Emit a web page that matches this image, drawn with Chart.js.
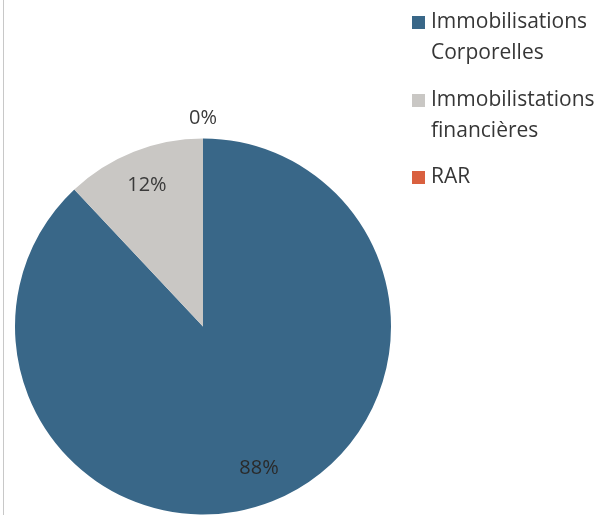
<!DOCTYPE html>
<html>
<head>
<meta charset="utf-8">
<script src="https://cdn.jsdelivr.net/npm/chart.js@4.4.0/dist/chart.umd.min.js"></script>
<style>
  html, body { margin: 0; padding: 0; background: #fff; }
  #wrap { position: relative; width: 606px; height: 515px; }
  #wrap::before { content: ''; position: absolute; left: 3px; top: 0; bottom: 0; border-left: 1px solid #c8c8c8; }
</style>
</head>
<body>
<div id="wrap"><canvas id="myChart" width="606" height="515"></canvas></div>
<script>
// data
var categories = ['Immobilisations Corporelles', 'Immobilistations financières', 'RAR']
var legendLines = [['Immobilisations', 'Corporelles'], ['Immobilistations', 'financières'], ['RAR']]
var values = [88, 12, 0]
var colors = ['#396788', '#c9c7c4', '#d9603f']

var FONT = '"Open Sans", Lato, sans-serif'

// percent labels on the slices
var pctLabels = {
    id: 'pctLabels',
    afterDatasetsDraw: function(chart) {
        var ctx = chart.ctx
        var meta = chart.getDatasetMeta(0)
        var total = values.reduce(function(a, b) { return a + b }, 0)
        ctx.save()
        ctx.font = '20px ' + FONT
        ctx.textAlign = 'center'
        ctx.textBaseline = 'middle'
        meta.data.forEach(function(arc, i) {
            var p = arc.getProps(['x', 'y', 'startAngle', 'endAngle', 'outerRadius'], true)
            var mid = (p.startAngle + p.endAngle) / 2
            var r = values[i] === 0 ? p.outerRadius + 20 : p.outerRadius * 0.81
            var pct = Math.round(values[i] / total * 100) + '%'
            ctx.fillStyle = i === 0 ? '#2a2a2a' : '#3a3a3a'
            ctx.fillText(pct, p.x + Math.cos(mid) * r, p.y + Math.sin(mid) * r)
        })
        ctx.restore()
    }
}

// legend on the right, two-line labels
var sideLegend = {
    id: 'sideLegend',
    afterDraw: function(chart) {
        var ctx = chart.ctx
        var tops = [22, 100, 177]
        ctx.save()
        ctx.font = '21px ' + FONT
        ctx.textBaseline = 'middle'
        ctx.textAlign = 'left'
        legendLines.forEach(function(lines, i) {
            ctx.fillStyle = colors[i]
            ctx.fillRect(412, tops[i] - 6, 13, 13)
            ctx.fillStyle = '#363636'
            lines.forEach(function(t, j) {
                ctx.fillText(t, 431, tops[i] + j * 31)
            })
        })
        ctx.restore()
    }
}

var ctx = document.getElementById('myChart').getContext('2d')
var myChart = new Chart(ctx, {
    type: 'pie',
    data: {
        labels: categories,
        datasets: [{
            data: values,
            backgroundColor: colors,
            borderWidth: 0
        }]
    },
    options: {
        responsive: false,
        animation: false,
        layout: { padding: { left: 15, right: 215, top: 138, bottom: 0 } },
        plugins: {
            legend: { display: false },
            tooltip: { enabled: false }
        }
    },
    plugins: [pctLabels, sideLegend]
})
</script>
</body>
</html>
